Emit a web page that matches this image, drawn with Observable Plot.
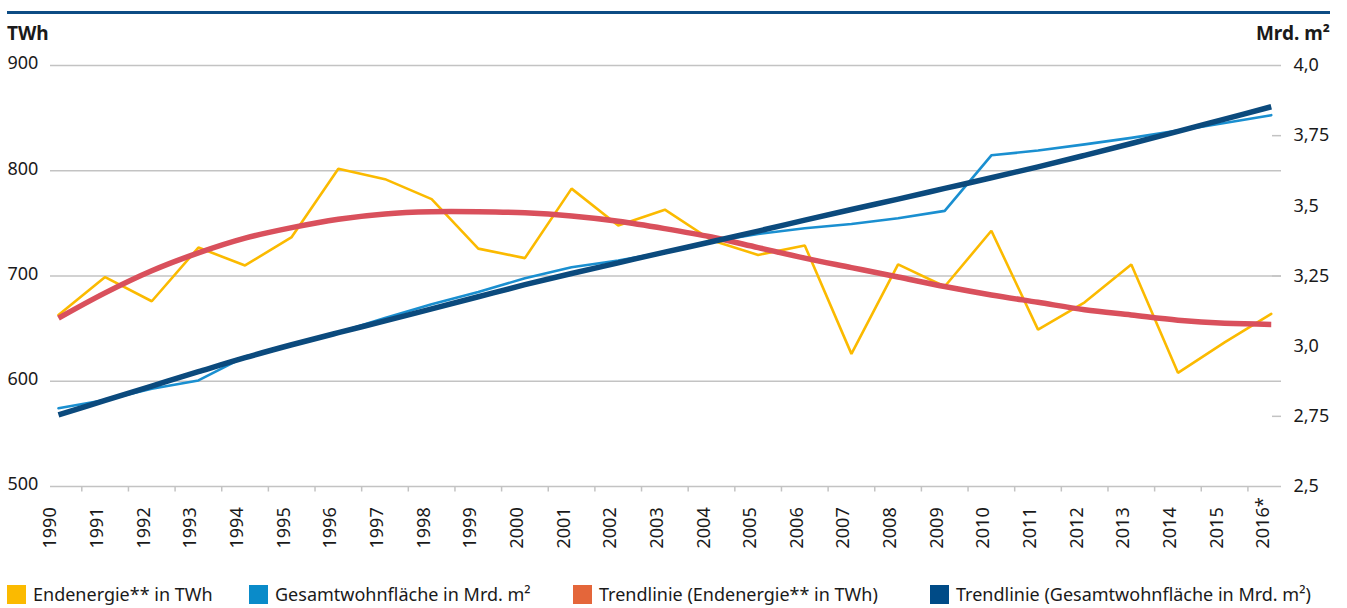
<!DOCTYPE html>
<html><head><meta charset="utf-8">
<script src="https://cdn.jsdelivr.net/npm/d3@7"></script>
<script src="https://cdn.jsdelivr.net/npm/@observablehq/plot@0.6"></script>
<style>
body{margin:0;background:#fff;font-family:"Noto Sans",sans-serif;color:#1a1a1a;}
#wrap{position:relative;width:1347px;height:608px;overflow:hidden;}
#rule{position:absolute;left:7px;top:11px;width:1323px;height:3px;background:#0d4c84;}
.hdr{position:absolute;top:20px;font-weight:bold;font-size:19px;line-height:26px;}
#hl{left:7px;}
#hr{right:17px;}
#chart{position:absolute;left:0;top:0;}
.lg{position:absolute;top:584px;height:20px;display:flex;align-items:center;font-size:18px;white-space:nowrap;}
.lg span.sw{display:inline-block;width:19px;height:19px;margin-right:7px;}
</style></head><body>
<div id="wrap">
  <div id="chart"></div>
  <div id="rule"></div>
  <div class="hdr" id="hl">TWh</div>
  <div class="hdr" id="hr">Mrd. m²</div>
  <div id="legend"></div>
</div>
<script>
const years = [1990,1991,1992,1993,1994,1995,1996,1997,1998,1999,2000,2001,2002,2003,2004,2005,2006,2007,2008,2009,2010,2011,2012,2013,2014,2015,2016];
const yearLabels = ["1990","1991","1992","1993","1994","1995","1996","1997","1998","1999","2000","2001","2002","2003","2004","2005","2006","2007","2008","2009","2010","2011","2012","2013","2014","2015","2016*"];
const endenergie = [663,699,676,727,710,737,802,792,773,726,717,783,748,763,734,720,729,626,711,690,743,649,675,711,608,637,664];
const wohnflaeche = [2.779,2.808,2.848,2.878,2.963,3.006,3.049,3.100,3.149,3.193,3.242,3.281,3.305,3.335,3.372,3.400,3.420,3.435,3.456,3.482,3.680,3.697,3.719,3.742,3.768,3.795,3.823];
const trendEnergie = [660,684,705,722,736,746,754,759,761,761,760,757,752,745,737,727,717,708,699,690,682,675,668,663,658,655,654];
const trendWohn = [2.755,2.807,2.858,2.909,2.959,3.005,3.048,3.090,3.133,3.176,3.219,3.259,3.297,3.335,3.372,3.410,3.449,3.487,3.524,3.562,3.600,3.639,3.680,3.722,3.765,3.809,3.853];
const leftTicks = [500,600,700,800,900];
const rightTicks = [2.5,2.75,3.0,3.25,3.5,3.75,4.0];
const rightTickLabels = ["2,5","2,75","3,0","3,25","3,5","3,75","4,0"];
const rightMinor = [2.75,3.25,3.75];
const legendItems = [
  {label:"Endenergie** in TWh", color:"#fbba00", left:7},
  {label:"Gesamtwohnfläche in Mrd. m²", color:"#0a8bc9", left:249},
  {label:"Trendlinie (Endenergie** in TWh)", color:"#e4663a", left:573},
  {label:"Trendlinie (Gesamtwohnfläche in Mrd. m²)", color:"#004b87", left:930}
];

// right axis (Mrd. m²) mapped onto left axis (TWh) domain
const leftDom = [500, 900], rightDom = [2.5, 4.0];
const toLeft = v => leftDom[0] + (v - rightDom[0]) * (leftDom[1]-leftDom[0])/(rightDom[1]-rightDom[0]);

const xDom = [1989.829, 2016.22];
const rows = years.map((y,i)=>({year:y, label:yearLabels[i], e:endenergie[i], w:wohnflaeche[i], te:trendEnergie[i], tw:trendWohn[i]}));
const boundaries = years.slice(0,-1).map(y=>y+0.5);

const chart = Plot.plot({
  width:1347, height:575,
  marginLeft:50, marginRight:66, marginTop:65, marginBottom:89,
  x:{domain:xDom, axis:null},
  y:{domain:leftDom, axis:null},
  style:{fontFamily:"Noto Sans", fontSize:"18px", color:"#1a1a1a", background:"#fff"},
  marks:[
    Plot.ruleY(leftTicks, {stroke:"#c3c3c3", strokeWidth:1.5}),
    Plot.ruleY(rightMinor, {y:d=>toLeft(d), x1:xDom[1]-9/46.65, x2:xDom[1], stroke:"#c3c3c3", strokeWidth:1.5}),
    Plot.ruleX(boundaries, {x:d=>d, y1:500, y2:500-5.5/1.0533, stroke:"#c3c3c3", strokeWidth:1.5}),
    Plot.text(leftTicks, {y:d=>d, text:d=>String(d), frameAnchor:"left", dx:-43, dy:-2, textAnchor:"start", fill:"#1a1a1a"}),
    Plot.text(rightTicks, {y:d=>toLeft(d), text:(d,i)=>rightTickLabels[i], frameAnchor:"right", dx:12, textAnchor:"start", fill:"#1a1a1a"}),
    Plot.text(rows, {x:"year", text:"label", frameAnchor:"bottom", dy:62, dx:-2, rotate:-90, textAnchor:"start", fill:"#1a1a1a"}),
    Plot.line(rows, {x:"year", y:"e", stroke:"#fbba00", strokeWidth:2.6, strokeLinejoin:"miter"}),
    Plot.line(rows, {x:"year", y:d=>toLeft(d.w), stroke:"#1a8fd0", strokeWidth:2.6}),
    Plot.line(rows, {x:"year", y:"te", stroke:"#d9505c", strokeWidth:5.5, curve:"catmull-rom", strokeLinecap:"butt"}),
    Plot.line(rows, {x:"year", y:d=>toLeft(d.tw), stroke:"#0b4a7d", strokeWidth:5.5, curve:"catmull-rom", strokeLinecap:"butt"})
  ]
});
document.getElementById("chart").appendChild(chart);

const lg = document.getElementById("legend");
legendItems.forEach(it=>{
  const d = document.createElement("div");
  d.className = "lg";
  d.style.left = it.left + "px";
  const sw = document.createElement("span");
  sw.className = "sw";
  sw.style.background = it.color;
  d.appendChild(sw);
  d.appendChild(document.createTextNode(it.label));
  lg.appendChild(d);
});
</script>
</body></html>
